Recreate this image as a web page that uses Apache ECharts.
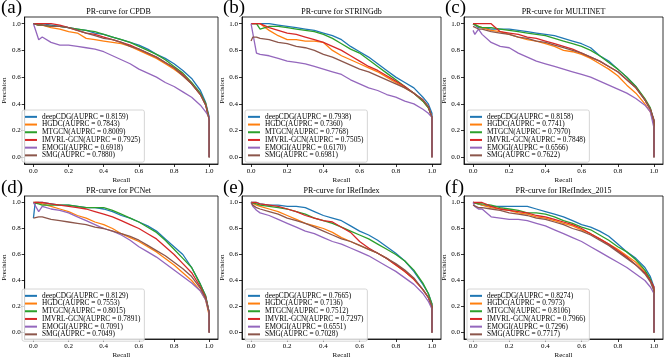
<!DOCTYPE html>
<html><head><meta charset="utf-8">
<script src="https://cdn.jsdelivr.net/npm/echarts@6/dist/echarts.min.js"></script>
<style>html,body{margin:0;padding:0;background:#fff}#c{width:666px;height:360px}</style>
</head><body><div id="c"></div>
<script>
const recall = [0,0.01,0.03,0.05,0.1,0.15,0.2,0.25,0.3,0.35,0.4,0.45,0.5,0.55,0.6,0.65,0.7,0.75,0.8,0.85,0.9,0.95,0.98,1.0,1.0];
const tickVals = [0,0.2,0.4,0.6,0.8,1.0];
const methods = ['deepCDG','HGDC','MTGCN','IMVRL-GCN','EMOGI','SMG'];
const colors = ['#1f77b4','#ff7f0e','#2ca02c','#d62728','#9467bd','#8c564b'];
const datasets = ['CPDB','STRINGdb','MULTINET','PCNet','IRefIndex','IRefIndex_2015'];
const letters = ['(a)','(b)','(c)','(d)','(e)','(f)'];

const aucCPDB = ['0.8159','0.7843','0.8009','0.7925','0.6918','0.7880'];
const aucSTRING = ['0.7938','0.7360','0.7768','0.7505','0.6170','0.6981'];
const aucMULTINET = ['0.8158','0.7741','0.7970','0.7848','0.6566','0.7622'];
const aucPCNet = ['0.8129','0.7553','0.8015','0.7891','0.7091','0.7049'];
const aucIRef = ['0.7665','0.7136','0.7512','0.7297','0.6551','0.7028'];
const aucIRef2015 = ['0.8274','0.7973','0.8106','0.7966','0.7296','0.7717'];

const precCPDB = [
 [1.00,0.99,0.99,1.00,0.99,0.98,0.97,0.96,0.95,0.93,0.92,0.90,0.88,0.86,0.84,0.81,0.77,0.74,0.70,0.65,0.59,0.50,0.41,0.30,0],
 [1.00,1.00,0.99,0.99,0.97,0.96,0.94,0.93,0.89,0.88,0.87,0.86,0.85,0.83,0.80,0.77,0.74,0.70,0.66,0.61,0.55,0.47,0.40,0.28,0],
 [1.00,1.00,0.99,0.99,0.98,0.98,0.97,0.96,0.95,0.94,0.92,0.90,0.88,0.86,0.83,0.80,0.77,0.73,0.68,0.63,0.56,0.48,0.40,0.29,0],
 [1.00,1.00,1.00,1.00,1.00,0.99,0.97,0.95,0.93,0.92,0.90,0.88,0.86,0.84,0.81,0.78,0.75,0.71,0.67,0.62,0.55,0.47,0.39,0.28,0],
 [1.00,0.96,0.88,0.90,0.86,0.84,0.84,0.83,0.82,0.81,0.79,0.76,0.73,0.70,0.66,0.63,0.60,0.56,0.53,0.49,0.45,0.39,0.34,0.30,0],
 [1.00,1.00,0.99,0.99,0.98,0.98,0.97,0.95,0.93,0.91,0.89,0.88,0.86,0.83,0.81,0.78,0.75,0.71,0.67,0.61,0.55,0.47,0.39,0.28,0]
];
const precSTRING = [
 [1.00,1.00,1.00,1.00,1.00,0.99,0.98,0.97,0.96,0.95,0.93,0.91,0.88,0.83,0.79,0.75,0.70,0.65,0.60,0.56,0.52,0.45,0.40,0.33,0],
 [1.00,1.00,1.00,1.00,0.95,0.91,0.88,0.88,0.87,0.87,0.86,0.80,0.76,0.73,0.70,0.67,0.64,0.60,0.56,0.52,0.48,0.42,0.37,0.30,0],
 [1.00,1.00,1.00,0.96,0.98,0.98,0.97,0.96,0.95,0.94,0.92,0.89,0.85,0.81,0.78,0.73,0.68,0.63,0.58,0.53,0.48,0.42,0.37,0.30,0],
 [1.00,1.00,1.00,1.00,0.97,0.95,0.93,0.92,0.90,0.88,0.86,0.83,0.80,0.76,0.72,0.68,0.65,0.61,0.57,0.53,0.48,0.43,0.38,0.30,0],
 [1.00,1.00,0.78,0.77,0.76,0.74,0.72,0.71,0.70,0.68,0.66,0.64,0.62,0.58,0.55,0.52,0.50,0.47,0.45,0.42,0.40,0.36,0.33,0.30,0],
 [0.87,0.90,0.90,0.89,0.88,0.86,0.85,0.83,0.82,0.80,0.77,0.75,0.72,0.69,0.66,0.64,0.61,0.58,0.55,0.52,0.48,0.43,0.38,0.30,0]
];
const precMULTINET = [
 [1.00,0.99,0.97,0.97,0.96,0.96,0.96,0.95,0.94,0.93,0.92,0.91,0.89,0.87,0.85,0.82,0.76,0.72,0.66,0.60,0.53,0.43,0.36,0.28,0],
 [1.00,0.99,0.98,0.97,0.95,0.94,0.92,0.90,0.88,0.87,0.85,0.83,0.80,0.79,0.77,0.74,0.70,0.66,0.61,0.54,0.48,0.40,0.34,0.25,0],
 [1.00,0.99,0.98,0.97,0.97,0.96,0.95,0.94,0.93,0.92,0.91,0.89,0.87,0.85,0.83,0.80,0.76,0.71,0.66,0.60,0.53,0.44,0.37,0.27,0],
 [1.00,1.00,1.00,1.00,1.00,0.94,0.93,0.92,0.90,0.89,0.87,0.85,0.83,0.81,0.78,0.75,0.72,0.68,0.64,0.58,0.52,0.43,0.36,0.28,0],
 [0.95,0.92,0.96,0.92,0.86,0.83,0.82,0.78,0.75,0.72,0.70,0.68,0.66,0.64,0.62,0.60,0.57,0.54,0.51,0.48,0.44,0.39,0.34,0.22,0],
 [0.98,0.97,0.96,0.96,0.94,0.93,0.92,0.90,0.89,0.87,0.86,0.84,0.82,0.80,0.78,0.75,0.72,0.68,0.64,0.58,0.52,0.43,0.36,0.27,0]
];
const precPCNet = [
 [0.88,1.00,1.00,1.00,0.99,0.98,0.98,0.97,0.96,0.96,0.95,0.93,0.90,0.88,0.85,0.82,0.78,0.72,0.66,0.60,0.50,0.37,0.28,0.15,0],
 [1.00,1.00,1.00,0.99,0.97,0.95,0.93,0.90,0.88,0.85,0.83,0.80,0.76,0.73,0.70,0.66,0.62,0.57,0.52,0.46,0.40,0.32,0.25,0.13,0],
 [1.00,1.00,0.99,0.98,0.98,0.98,0.98,0.97,0.96,0.96,0.96,0.94,0.91,0.88,0.85,0.81,0.77,0.71,0.64,0.57,0.50,0.37,0.28,0.15,0],
 [1.00,1.00,1.00,1.00,0.99,0.98,0.97,0.96,0.95,0.93,0.91,0.89,0.86,0.83,0.80,0.76,0.72,0.66,0.60,0.53,0.46,0.35,0.27,0.15,0],
 [1.00,1.00,0.93,0.97,0.95,0.94,0.92,0.89,0.86,0.83,0.80,0.78,0.75,0.71,0.66,0.62,0.58,0.53,0.48,0.43,0.38,0.32,0.25,0.15,0],
 [0.88,0.88,0.89,0.89,0.87,0.86,0.85,0.84,0.83,0.81,0.80,0.78,0.76,0.74,0.71,0.67,0.63,0.59,0.54,0.49,0.43,0.34,0.26,0.15,0]
];
const precIRef = [
 [1.00,1.00,1.00,0.99,0.98,0.98,0.97,0.97,0.96,0.93,0.90,0.88,0.86,0.82,0.78,0.75,0.71,0.66,0.61,0.55,0.47,0.37,0.30,0.22,0],
 [1.00,1.00,0.98,0.97,0.95,0.93,0.90,0.87,0.84,0.82,0.80,0.77,0.73,0.70,0.67,0.64,0.61,0.57,0.52,0.47,0.41,0.33,0.27,0.20,0],
 [1.00,1.00,0.99,0.98,0.97,0.96,0.95,0.93,0.91,0.88,0.86,0.84,0.81,0.78,0.75,0.72,0.68,0.64,0.60,0.55,0.48,0.38,0.30,0.22,0],
 [1.00,1.00,1.00,0.99,0.98,0.97,0.95,0.93,0.90,0.88,0.86,0.85,0.81,0.77,0.70,0.65,0.61,0.57,0.52,0.47,0.41,0.33,0.27,0.20,0],
 [1.00,0.97,0.94,0.92,0.90,0.87,0.84,0.81,0.78,0.76,0.73,0.70,0.68,0.65,0.62,0.59,0.55,0.51,0.47,0.42,0.37,0.30,0.24,0.18,0],
 [1.00,0.98,0.96,0.95,0.93,0.91,0.88,0.86,0.84,0.81,0.78,0.75,0.72,0.70,0.67,0.64,0.61,0.57,0.53,0.48,0.42,0.33,0.27,0.20,0]
];
const precIRef2015 = [
 [1.00,1.00,0.99,0.98,0.97,0.97,0.97,0.97,0.97,0.95,0.93,0.91,0.89,0.86,0.83,0.81,0.78,0.74,0.68,0.62,0.57,0.50,0.43,0.35,0],
 [1.00,1.00,0.99,0.98,0.96,0.95,0.94,0.92,0.91,0.89,0.88,0.86,0.84,0.82,0.79,0.76,0.72,0.68,0.64,0.59,0.54,0.47,0.40,0.33,0],
 [1.00,1.00,0.99,0.99,0.98,0.96,0.95,0.94,0.92,0.92,0.91,0.89,0.86,0.84,0.81,0.79,0.75,0.71,0.66,0.62,0.56,0.48,0.41,0.33,0],
 [1.00,1.00,1.00,1.00,0.97,0.95,0.94,0.93,0.92,0.90,0.89,0.87,0.85,0.83,0.80,0.76,0.72,0.68,0.63,0.58,0.52,0.46,0.40,0.35,0],
 [1.00,0.97,0.95,0.95,0.89,0.88,0.87,0.87,0.86,0.84,0.82,0.79,0.76,0.73,0.70,0.66,0.62,0.58,0.54,0.50,0.45,0.40,0.35,0.30,0],
 [0.98,0.97,0.96,0.96,0.95,0.94,0.92,0.91,0.90,0.88,0.87,0.85,0.83,0.80,0.78,0.75,0.71,0.67,0.62,0.57,0.52,0.45,0.39,0.32,0]
];

const allPrec = [precCPDB, precSTRING, precMULTINET, precPCNet, precIRef, precIRef2015];
const allAuc = [aucCPDB, aucSTRING, aucMULTINET, aucPCNet, aucIRef, aucIRef2015];

const FONT = 'Liberation Serif';
const colLefts = [19, 242, 464];
const rowTops = [17, 196];
const PW = 199, PH = 147;

const grid = [], xAxis = [], yAxis = [], series = [], title = [], legend = [];
for (let p = 0; p < 6; p++) {
  const L = colLefts[p % 3], T = rowTops[Math.floor(p / 3)];
  grid.push({left: L, top: T, width: PW, height: PH, show: true, borderColor: '#000', borderWidth: 0.8, backgroundColor: 'transparent'});
  xAxis.push({type: 'value', gridIndex: p, min: -0.05, max: 1.05,
    name: 'Recall', nameLocation: 'middle', nameGap: 13,
    nameTextStyle: {fontFamily: FONT, fontSize: 7, color: '#000'},
    axisLine: {show: true, onZero: false, lineStyle: {color: '#000', width: 0.8}},
    axisTick: {show: true, length: 3, lineStyle: {color: '#000', width: 0.8}, customValues: tickVals},
    axisLabel: {fontFamily: FONT, fontSize: 7, color: '#000', margin: 4, customValues: tickVals, formatter: v => v.toFixed(1)},
    splitLine: {show: false}});
  yAxis.push({type: 'value', gridIndex: p, min: -0.05, max: 1.05,
    name: 'Precision', nameLocation: 'middle', nameGap: 15,
    nameTextStyle: {fontFamily: FONT, fontSize: 7, color: '#000'},
    axisLine: {show: true, onZero: false, lineStyle: {color: '#000', width: 0.8}},
    axisTick: {show: true, length: 3, lineStyle: {color: '#000', width: 0.8}, customValues: tickVals},
    axisLabel: {fontFamily: FONT, fontSize: 7, color: '#000', margin: 4, customValues: tickVals, formatter: v => v.toFixed(1)},
    splitLine: {show: false}});
  title.push({text: 'PR-curve for ' + datasets[p], left: L + PW / 2, top: T - 9, textAlign: 'center', padding: 0,
    textStyle: {fontFamily: FONT, fontSize: 8, fontWeight: 'normal', color: '#000'}});
  title.push({text: letters[p], left: (p % 3) * 222 + 1, top: Math.floor(p / 3) * 180 - 1, padding: 0,
    textStyle: {fontFamily: FONT, fontSize: 19, fontWeight: 'normal', color: '#000'}});
  const names = [];
  for (let m = 0; m < 6; m++) {
    const nm = methods[m] + '(AUPRC = ' + allAuc[p][m] + ')';
    names.push(nm);
    series.push({type: 'line', name: nm, xAxisIndex: p, yAxisIndex: p, showSymbol: false, symbol: 'none',
      color: colors[m], lineStyle: {width: 1.3, color: colors[m]},
      data: recall.map((r, i) => [r, allPrec[p][m][i]]), animation: false, silent: true});
  }
  legend.push({data: names, orient: 'vertical', left: L + 3, top: T + 93, icon: 'rect', itemWidth: 12, itemHeight: 2, itemGap: 0,
    padding: [3, 4, 3, 3], borderColor: '#ccc', borderWidth: 0.8, borderRadius: 2, backgroundColor: 'rgba(255,255,255,0.8)',
    textStyle: {fontFamily: FONT, fontSize: 7.3, lineHeight: 7.7, color: '#000', padding: [0, 0, 0, 0]}, selectedMode: false});
}

const chart = echarts.init(document.getElementById('c'), null, {renderer: 'canvas'});
chart.setOption({animation: false, backgroundColor: '#fff', grid, xAxis, yAxis, series, title, legend});
</script></body></html>
